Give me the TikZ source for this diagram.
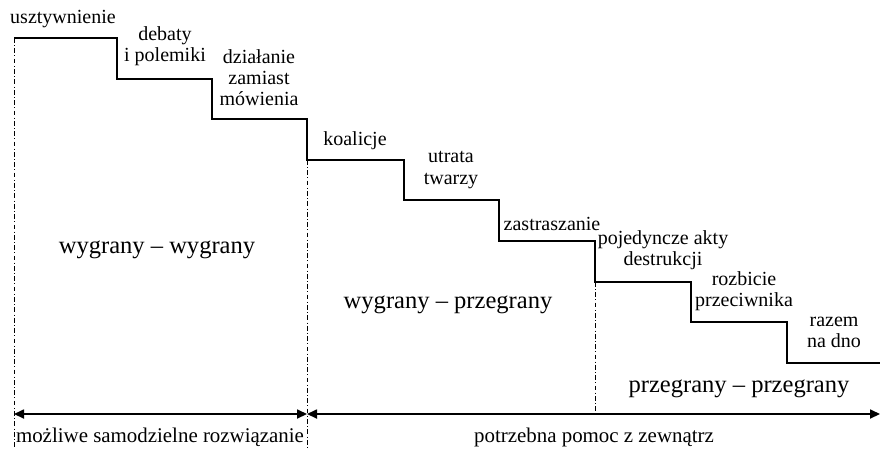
\documentclass[tikz,border=0pt]{standalone}
\usepackage{fontspec}
\setmainfont{Liberation Serif}
\usepackage{tikz}
\usetikzlibrary{arrows.meta}

\begin{document}
\begin{tikzpicture}[x=0.55pt,y=-0.55pt,
  stair/.style={draw=black,line width=0.8pt},
  divider/.style={draw=black,line width=0.4pt,
                  dash pattern=on 2.6pt off 1.3pt on 0.5pt off 1.3pt},
  axis/.style={draw=black,line width=0.8pt,
               {Triangle[length=5.5pt,width=5pt]}-{Triangle[length=5.5pt,width=5pt]}},
  stage/.style={align=center,inner sep=0pt,font=\fontsize{11pt}{11.6pt}\selectfont},
  zone/.style={inner sep=0pt,font=\fontsize{13.5pt}{16pt}\selectfont},
  spanlabel/.style={inner sep=0pt,font=\fontsize{11.5pt}{13pt}\selectfont}
]
  \useasboundingbox (0,0) rectangle (880,449);

  % staircase
  \draw[stair] (14,38) -| (117,79) -| (212,119) -| (307,160) -| (404,200)
               -| (499,241) -| (595,282) -| (691,322) -| (787,363) -- (880,363);

  % dividers
  \coordinate (top0) at (14,38);
  \coordinate (top1) at (307,160);
  \coordinate (top2) at (595,282);
  \coordinate (bot0) at (14,447);
  \coordinate (bot1) at (307,447);
  \coordinate (bot2) at (595,414);
  \draw[divider] (top0) -- (bot0);
  \draw[divider] (top1) -- (bot1);
  \draw[divider] (top2) -- (bot2);

  % axis
  \coordinate (ax0) at (14,414);
  \coordinate (ax1) at (307,414);
  \coordinate (ax2) at (880,414);
  \draw[axis] (ax0) -- (ax1);
  \draw[axis] (ax1) -- (ax2);

  % stages
  \node[stage] (usztyw)    at (63,19)   {usztywnienie};
  \node[stage] (debaty)    at (165,46)  {debaty\\i polemiki};
  \node[stage] (dzialanie) at (259,78)  {działanie\\zamiast\\mówienia};
  \node[stage] (koalicje)  at (355,141) {koalicje};
  \node[stage] (utrata)    at (451,170) {utrata\\twarzy};
  \node[stage] (zastr)     at (552,224) {zastraszanie};
  \node[stage] (akty)      at (663,250) {pojedyncze akty\\destrukcji};
  \node[stage] (rozbicie)  at (744,291) {rozbicie\\przeciwnika};
  \node[stage] (dno)       at (834,332) {razem\\na dno};

  % zones
  \node[zone] (ww) at (157,250) {wygrany -- wygrany};
  \node[zone] (wp) at (448,305) {wygrany -- przegrany};
  \node[zone] (pp) at (739,389) {przegrany -- przegrany};

  \node[spanlabel] (samo)  at (160,437) {możliwe samodzielne rozwiązanie};
  \node[spanlabel] (pomoc) at (594,437) {potrzebna pomoc z zewnątrz};
\end{tikzpicture}
\end{document}
